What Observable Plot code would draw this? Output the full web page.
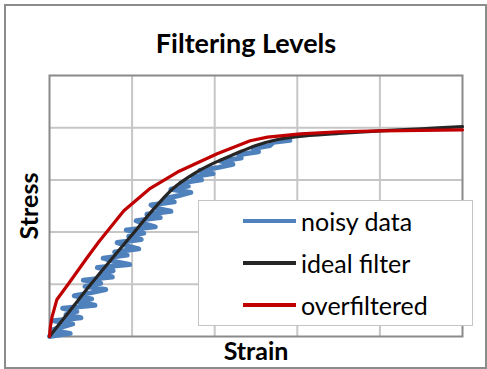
<!DOCTYPE html>
<html>
<head>
<meta charset="utf-8">
<script src="https://cdn.jsdelivr.net/npm/d3@7"></script>
<script src="https://cdn.jsdelivr.net/npm/@observablehq/plot@0.6"></script>
<style>
  html, body { margin: 0; padding: 0; background: #fff; }
  #wrap { position: relative; width: 487px; height: 369px; overflow: hidden; font-family: Lato, "Open Sans", sans-serif; }
  #border { position: absolute; left: 4px; top: 4px; width: 483px; height: 365px; box-sizing: border-box; border: 2px solid #8c8c8c; pointer-events: none; }
  #chart { position: absolute; left: 0; top: 0; }
  #legend { position: absolute; left: 198px; top: 200px; width: 275px; height: 126px; box-sizing: border-box; border: 1.5px solid #c4c4c4; background: #fff; }
  .row { position: absolute; left: 0; height: 30px; }
  .sw { position: absolute; left: 44px; width: 53px; height: 4px; }
  .lab { position: absolute; left: 102px; font-size: 25px; color: #000; white-space: nowrap; line-height: 30px; }
</style>
</head>
<body>
<div id="wrap">
  <div id="chart"></div>
  <div id="legend"></div>
  <div id="border"></div>
</div>
<script>
// ---- data ----
const titleText = "Filtering Levels";
const xLabel = "Strain";
const yLabel = "Stress";
const seriesNames = ["noisy data", "ideal filter", "overfiltered"];
const seriesColors = ["#4f81bd", "#262626", "#c00000"];
const gridTicks = [1, 2, 3, 4];

const noisyStrain = [0, 0.25, 0.02, 0.15, 0.28, 0.05, 0.38, 0.20, 0.33, 0.16, 0.55, 0.36, 0.51, 0.30, 0.51, 0.68,
  0.43, 0.62, 0.41, 0.76, 0.62, 0.77, 0.58, 0.97, 0.78, 0.65, 0.94, 0.79, 1.08, 0.93, 0.82, 1.11,
  0.96, 1.14, 0.93, 1.28, 1.14, 1.05, 1.34, 1.18, 1.47, 1.29, 1.23, 1.51, 1.39, 1.57, 1.71, 1.47,
  1.68, 1.59, 1.84, 1.73, 1.98, 1.82, 2.05, 2.22, 2.07, 2.32, 2.29, 2.53, 2.47, 2.67, 2.71, 2.91];
const noisyStress = [0, 0.06, 0.12, 0.18, 0.24, 0.30, 0.36, 0.42, 0.48, 0.54, 0.60, 0.66, 0.72, 0.78, 0.84, 0.90,
  0.96, 1.02, 1.08, 1.14, 1.20, 1.26, 1.32, 1.38, 1.44, 1.50, 1.56, 1.62, 1.68, 1.74, 1.80, 1.86,
  1.92, 1.98, 2.04, 2.10, 2.16, 2.22, 2.28, 2.34, 2.40, 2.46, 2.52, 2.58, 2.64, 2.70, 2.76, 2.82,
  2.88, 2.94, 3.00, 3.06, 3.12, 3.18, 3.24, 3.30, 3.36, 3.42, 3.48, 3.54, 3.60, 3.66, 3.72, 3.76];

const idealStrain = [0, 0.25, 0.5, 0.75, 1.0, 1.25, 1.5, 1.75, 2.0, 2.25, 2.5, 2.75, 3.0, 3.5, 4.0, 4.5, 5.0];
const idealStress = [0, 0.5, 1.0, 1.48, 1.95, 2.42, 2.84, 3.12, 3.33, 3.5, 3.66, 3.77, 3.83, 3.89, 3.94, 3.98, 4.02];

const overStrain = [0, 0.01, 0.03, 0.09, 0.23, 0.45, 0.6, 0.9, 1.22, 1.55, 2.03, 2.43, 2.64, 3.04, 3.5, 4.0, 5.0];
const overStress = [0, 0.18, 0.37, 0.71, 1.01, 1.5, 1.82, 2.41, 2.84, 3.15, 3.5, 3.75, 3.82, 3.88, 3.92, 3.94, 3.96];

// ---- build tables ----
const noisy = noisyStrain.map((x, i) => ({x, y: noisyStress[i]}));
const ideal = idealStrain.map((x, i) => ({x, y: idealStress[i]}));
const over = overStrain.map((x, i) => ({x, y: overStress[i]}));

const chart = Plot.plot({
  width: 487,
  height: 369,
  marginLeft: 49,
  marginRight: 25,
  marginTop: 75,
  marginBottom: 33,
  style: {fontFamily: "Lato, 'Open Sans', sans-serif", background: "transparent", overflow: "visible"},
  x: {domain: [0, 5], axis: null},
  y: {domain: [0, 5], axis: null},
  marks: [
    Plot.gridX(gridTicks, {stroke: "#c6c6c6", strokeOpacity: 1, strokeWidth: 2}),
    Plot.gridY(gridTicks, {stroke: "#c6c6c6", strokeOpacity: 1, strokeWidth: 2}),
    Plot.frame({stroke: "#8a8a8a", strokeWidth: 2}),
    Plot.line(noisy, {x: "x", y: "y", stroke: seriesColors[0], strokeWidth: 5, curve: "linear", strokeLinejoin: "round", strokeLinecap: "round"}),
    Plot.line(ideal, {x: "x", y: "y", stroke: seriesColors[1], strokeWidth: 3.2, curve: "catmull-rom"}),
    Plot.line(over, {x: "x", y: "y", stroke: seriesColors[2], strokeWidth: 3.2, curve: "linear", strokeLinejoin: "round"}),
    Plot.text([titleText], {frameAnchor: "top", dy: -31, dx: -10, fontSize: 27, fontWeight: "bold", fill: "#000", lineAnchor: "middle"}),
    Plot.text([xLabel], {frameAnchor: "bottom", dy: 15, fontSize: 25, fontWeight: "bold", fill: "#000", lineAnchor: "middle"}),
    Plot.text([yLabel], {frameAnchor: "left", dx: -20, rotate: -90, fontSize: 25, fontWeight: "bold", fill: "#000", lineAnchor: "middle", textAnchor: "middle"})
  ]
});
document.getElementById("chart").appendChild(chart);

// ---- legend ----
const legend = document.getElementById("legend");
const rowCenters = [20, 62, 104];
seriesNames.forEach((name, i) => {
  const row = document.createElement("div");
  row.className = "row";
  row.style.top = (rowCenters[i] - 15) + "px";
  row.style.width = "100%";
  const sw = document.createElement("div");
  sw.className = "sw";
  sw.style.background = seriesColors[i];
  sw.style.top = "13px";
  const lab = document.createElement("div");
  lab.className = "lab";
  lab.style.top = "0px";
  lab.textContent = name;
  row.appendChild(sw);
  row.appendChild(lab);
  legend.appendChild(row);
});
</script>
</body>
</html>
